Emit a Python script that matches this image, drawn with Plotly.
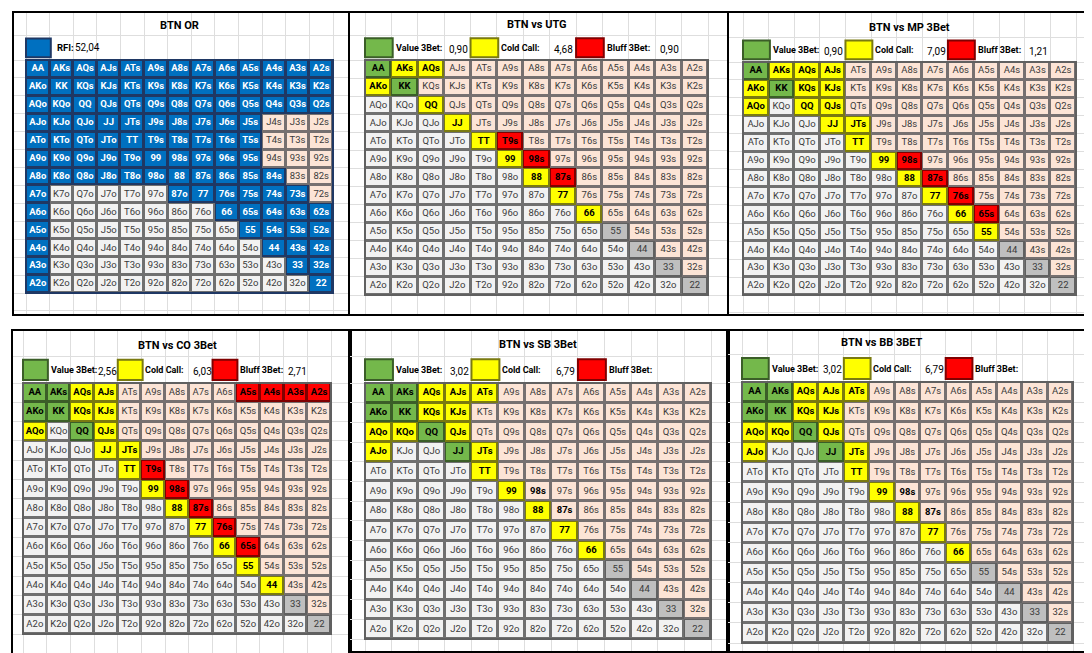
import numpy as np
import plotly.graph_objects as go

RANKS = "AKQJT98765432"

# BTN open raise (RFI)
OR_TITLE = "BTN OR"
OR_STAT = "52,04"
OR_FOLD_SUITED = ["J4s", "J3s", "J2s", "T4s", "T3s", "T2s", "94s", "93s", "92s", "83s", "82s", "72s"]
OR_RAISE_OFFSUIT = ["AKo", "AQo", "AJo", "ATo", "A9o", "A8o", "A7o", "A6o", "A5o", "A4o", "A3o", "A2o",
                    "KQo", "KJo", "KTo", "K9o", "K8o", "QJo", "QTo", "Q9o", "Q8o",
                    "JTo", "J9o", "J8o", "T9o", "T8o", "98o", "87o"]

UTG_TITLE = "BTN vs UTG"
UTG_VALUE = ["AA", "KK"]
UTG_CALL = ["AKs", "AQs", "AKo", "QQ", "JJ", "TT", "99", "88", "77", "66"]
UTG_BLUFF = ["T9s", "98s", "87s"]
UTG_STATS = ["0,90", "4,68", "0,90"]

MP_TITLE = "BTN vs MP 3Bet"
MP_VALUE = ["AA", "KK"]
MP_CALL = ["AKs", "AQs", "AJs", "AKo", "KQs", "KJs", "AQo", "QQ", "QJs", "JJ", "JTs",
           "TT", "99", "88", "77", "66", "55"]
MP_BLUFF = ["98s", "87s", "76s", "65s"]
MP_STATS = ["0,90", "7,09", "1,21"]

CO_TITLE = "BTN vs CO 3Bet"
CO_VALUE = ["AA", "AKs", "AKo", "KK", "QQ"]
CO_CALL = ["AQs", "AJs", "KQs", "KJs", "AQo", "QJs", "JJ", "JTs", "TT", "99", "88", "77", "66", "55", "44"]
CO_BLUFF = ["A5s", "A4s", "A3s", "A2s", "T9s", "98s", "87s", "76s", "65s"]
CO_STATS = ["2,56", "6,03", "2,71"]

SB_TITLE = "BTN vs SB 3Bet"
SB_VALUE = ["AA", "AKs", "AKo", "KK", "QQ", "JJ"]
SB_CALL = ["AQs", "AJs", "ATs", "KQs", "KJs", "AQo", "KQo", "QJs", "AJo", "JTs", "TT", "99", "88", "77", "66"]
SB_BLUFF = []
SB_BOLD = ["98s", "87s"]
SB_STATS = ["3,02", "6,79", ""]

BB_TITLE = "BTN vs BB 3BET"
BB_VALUE = ["AA", "AKs", "AKo", "KK", "QQ", "JJ"]
BB_CALL = ["AQs", "AJs", "ATs", "KQs", "KJs", "AQo", "KQo", "QJs", "AJo", "JTs", "TT", "99", "88", "77", "66"]
BB_BLUFF = []
BB_BOLD = ["98s", "87s"]
BB_STATS = ["3,02", "6,79", ""]

LEGEND_LABELS = ["Value 3Bet:", "Cold Call:", "Bluff 3Bet:"]

# category codes: 0 offsuit, 1 suited, 2 pair (out of range), 3 raise, 4 value, 5 call, 6 bluff
FILL = ["#f2f2f2", "#fce4d6", "#bfbfbf", "#0070c0", "#74b84b", "#ffff00", "#ff0000"]
EDGE = ["#707070", "#767070", "#606060", "#1f3864", "#3b5e28", "#7a7a10", "#800000"]
TEXT = ["#3a3a3a", "#3a3a3a", "#3a3a3a", "#ffffff", "#000000", "#000000", "#000000"]

FONT = "Roboto, Liberation Sans, sans-serif"
W, H = 1092, 653

# panel box and grid area in pixels: bx0, bx1, by0, by1, gx0, gx1, gy0, gy1
GEOM = [
    (6, 340, 5, 306, 18, 325, 52, 285),
    (342, 719, 5, 306, 357, 700, 52, 287),
    (721, 1088, 5, 306, 735, 1068, 54, 287),
    (5, 342, 323, 645, 15, 323, 375, 626),
    (342, 720, 323, 643, 357, 703, 375, 631),
    (720, 1088, 323, 643, 734, 1065, 374, 635),
]


def hand(i, j):
    if i == j:
        return RANKS[i] * 2
    if j > i:
        return RANKS[i] + RANKS[j] + "s"
    return RANKS[j] + RANKS[i] + "o"


def build(value=(), call=(), bluff=(), raise_=(), bold=()):
    z, labels, colors = [], [], []
    for i in range(13):
        row = []
        for j in range(13):
            h = hand(i, j)
            c = 2 if i == j else (1 if j > i else 0)
            if h in raise_:
                c = 3
            if h in value:
                c = 4
            if h in call:
                c = 5
            if h in bluff:
                c = 6
            row.append(c)
            if c >= 3 or h in bold:
                labels.append("<b>" + h + "</b>")
            else:
                labels.append(h)
            colors.append("#000000" if h in bold else TEXT[c])
        z.append(row)
    return z, labels, colors


all_hands = [hand(i, j) for i in range(13) for j in range(13)]
or_raise = [h for h in all_hands
            if len(h) == 2 or (h.endswith("s") and h not in OR_FOLD_SUITED) or h in OR_RAISE_OFFSUIT]

panels = [
    dict(title=OR_TITLE, grid=build(raise_=or_raise), stats=None, tx=6),
    dict(title=UTG_TITLE, grid=build(UTG_VALUE, UTG_CALL, UTG_BLUFF), stats=UTG_STATS, tx=6),
    dict(title=MP_TITLE, grid=build(MP_VALUE, MP_CALL, MP_BLUFF), stats=MP_STATS, tx=6),
    dict(title=CO_TITLE, grid=build(CO_VALUE, CO_CALL, CO_BLUFF), stats=CO_STATS, tx=6),
    dict(title=SB_TITLE, grid=build(SB_VALUE, SB_CALL, SB_BLUFF, bold=SB_BOLD), stats=SB_STATS, tx=6),
    dict(title=BB_TITLE, grid=build(BB_VALUE, BB_CALL, BB_BLUFF, bold=BB_BOLD), stats=BB_STATS, tx=5),
]

fill_scale = [[k / 6, c] for k, c in enumerate(FILL)]
edge_scale = [[k / 6, c] for k, c in enumerate(EDGE)]

fig = go.Figure()
shapes, annotations = [], []
cols = list(range(13))

for n, (p, g) in enumerate(zip(panels, GEOM), start=1):
    bx0, bx1, by0, by1, gx0, gx1, gy0, gy1 = g
    cw = (gx1 - gx0) / 13
    ch = (gy1 - gy0) / 13
    xr = [-0.5 - (gx0 - bx0) / cw, 12.5 + (bx1 - gx1) / cw]
    yr = [12.5 + (by1 - gy1) / ch, -0.5 - (gy0 - by0) / ch]
    xa = "x" if n == 1 else "x%d" % n
    ya = "y" if n == 1 else "y%d" % n
    z, labels, tcolors = p["grid"]

    fig.add_trace(go.Heatmap(z=z, x=cols, y=cols, colorscale=edge_scale, zmin=0, zmax=6,
                             showscale=False, hoverinfo="skip", xaxis=xa, yaxis=ya))
    fig.add_trace(go.Heatmap(z=z, x=cols, y=cols, colorscale=fill_scale, zmin=0, zmax=6,
                             xgap=3, ygap=3, showscale=False, hoverinfo="skip", xaxis=xa, yaxis=ya))
    fig.add_trace(go.Scatter(x=[j for i in cols for j in cols], y=[i for i in cols for j in cols],
                             mode="text", text=labels,
                             textfont=dict(family=FONT, size=9.5, color=tcolors),
                             hoverinfo="skip", showlegend=False, xaxis=xa, yaxis=ya))

    xticks = list(np.arange(-0.5, xr[0] - 1e-6, -1))[::-1] + list(np.arange(0.5, xr[1], 1))
    yticks = [-1.85] + list(np.arange(-0.5, yr[0], 1))
    axkw = dict(showgrid=True, gridcolor="#dedede", gridwidth=1, showticklabels=False, ticks="",
                zeroline=False, showline=True, mirror=True, linecolor="black", linewidth=2,
                fixedrange=True)
    fig.update_layout(**{
        ("xaxis" if n == 1 else "xaxis%d" % n): dict(domain=[bx0 / W, bx1 / W], range=xr,
                                                     tickvals=xticks, anchor=ya, **axkw),
        ("yaxis" if n == 1 else "yaxis%d" % n): dict(domain=[1 - by1 / H, 1 - by0 / H], range=yr,
                                                     tickvals=yticks, anchor=xa, **axkw),
    })

    frame = "#1f3864" if n == 1 else "#606060"
    shapes.append(dict(type="rect", xref=xa, yref=ya, x0=-0.5, x1=12.5, y0=-0.5, y1=12.5,
                       line=dict(color=frame, width=2), layer="above"))

    annotations.append(dict(xref=xa, yref=ya, x=p["tx"], y=-2.45, text="<b>" + p["title"] + "</b>",
                            showarrow=False, font=dict(family=FONT, size=11, color="#000000")))

    if p["stats"] is None:
        shapes.append(dict(type="rect", xref=xa, yref=ya, x0=-0.5, x1=0.55, y0=-1.7, y1=-0.65,
                           fillcolor=FILL[3], line=dict(color=EDGE[3], width=2)))
        annotations.append(dict(xref=xa, yref=ya, x=0.72, y=-1.17, text="<b>RFI:</b>", xanchor="left",
                                showarrow=False, font=dict(family=FONT, size=9.5, color="#000000")))
        annotations.append(dict(xref=xa, yref=ya, x=1.5, y=-1.17, text=OR_STAT, xanchor="left",
                                showarrow=False, font=dict(family=FONT, size=10, color="#000000")))
    else:
        for k, (code, lab, val) in enumerate(zip([4, 5, 6], LEGEND_LABELS, p["stats"])):
            c0 = 4 * k
            shapes.append(dict(type="rect", xref=xa, yref=ya, x0=c0 - 0.5, x1=c0 + 0.55, y0=-1.7, y1=-0.65,
                               fillcolor=FILL[code], line=dict(color=EDGE[code], width=2)))
            annotations.append(dict(xref=xa, yref=ya, x=c0 + 0.58, y=-1.17, text="<b>" + lab + "</b>",
                                    xanchor="left", showarrow=False,
                                    font=dict(family=FONT, size=9, color="#000000")))
            if val:
                annotations.append(dict(xref=xa, yref=ya, x=c0 + 2.6, y=-1.1, text=val,
                                        xanchor="left", showarrow=False,
                                        font=dict(family=FONT, size=10, color="#000000")))

fig.update_layout(width=W, height=H, margin=dict(l=0, r=0, t=0, b=0),
                  paper_bgcolor="white", plot_bgcolor="white", showlegend=False,
                  shapes=shapes, annotations=annotations)

fig.write_html("out.html")
